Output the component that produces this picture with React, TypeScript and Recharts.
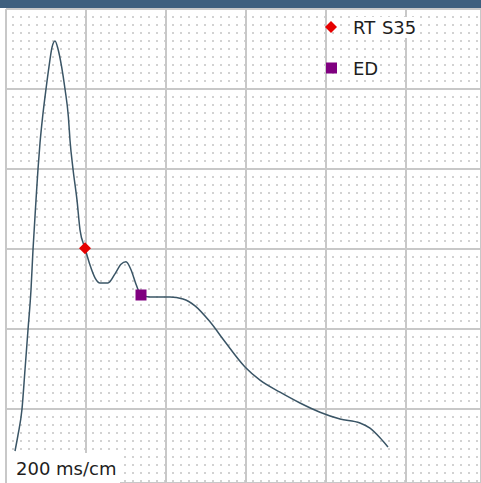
import React from "react";
import {
  ComposedChart,
  Line,
  Scatter,
  XAxis,
  YAxis,
  CartesianGrid,
} from "recharts";

// Time in ms (200 ms per major division), amplitude in mm (10 mm per major division)
const timeMs = [
  22.5, 30, 40, 47.5, 55, 62.5, 67.5, 75, 80, 85, 91.5, 100, 107.5, 115, 122.5,
  130, 139, 147.5, 156, 160, 167.5, 177.5, 185, 197.5, 210, 222.5, 235, 255,
  272.5, 287.5, 300, 312.5, 325, 337.5, 360, 410, 442.5, 472.5, 510, 547.5,
  597.5, 635, 685, 735, 785, 835, 885, 910, 935, 955,
];
const amplitudeMm = [
  -5.25, -3.25, 0, 4.9, 9.9, 14.9, 19.9, 26.1, 30, 33.25, 36.5, 40, 42.8, 45.2,
  46, 45, 42.8, 40, 36.5, 33.6, 30, 26.1, 22.4, 20.1, 18, 16.4, 15.75, 15.75,
  16.9, 18.1, 18.4, 17.4, 15.6, 14.25, 14, 14, 13.75, 12.9, 10.9, 8.4, 5.25,
  3.6, 2.1, 0.75, -0.4, -1.25, -1.75, -2.4, -3.6, -4.75,
];
const rtS35Time = [197.5];
const rtS35Amp = [20.1];
const edTime = [337.5];
const edAmp = [14.25];
const legendNames = ["RT S35", "ED"];
const majorXTicks = [0, 200, 400, 600, 800, 1000];
const majorYTicks = [0, 10, 20, 30, 40];
const minorYTicks = [
  -9, -8, -7, -6, -5, -4, -3, -2, -1, 0, 1, 2, 3, 4, 5, 6, 7, 8, 9, 10, 11, 12,
  13, 14, 15, 16, 17, 18, 19, 20, 21, 22, 23, 24, 25, 26, 27, 28, 29, 30, 31,
  32, 33, 34, 35, 36, 37, 38, 39, 40, 41, 42, 43, 44, 45, 46, 47, 48, 49,
];
const scaleLabel = "200 ms/cm";

const curve = timeMs.map((t, i) => ({ t, v: amplitudeMm[i] }));
const rtData = rtS35Time.map((t, i) => ({ t, v: rtS35Amp[i] }));
const edData = edTime.map((t, i) => ({ t, v: edAmp[i] }));

const FONT = "'DejaVu Sans', Verdana, sans-serif";
const RED = "#e60000";
const PURPLE = "#800080";

const Diamond = (p: any) => {
  const { cx, cy } = p;
  return (
    <polygon
      points={`${cx},${cy - 6} ${cx + 6},${cy} ${cx},${cy + 6} ${cx - 6},${cy}`}
      fill={RED}
    />
  );
};
const Square = (p: any) => {
  const { cx, cy } = p;
  return <rect x={cx - 5.5} y={cy - 5.5} width={11} height={11} fill={PURPLE} />;
};

const LegendBox = () => (
  <div
    style={{
      position: "absolute",
      left: 324,
      top: 15,
      fontFamily: FONT,
      fontSize: 18,
      color: "#1e1e1e",
    }}
  >
    <div style={{ position: "absolute", left: 0, top: 0, display: "flex", alignItems: "center", height: 24, whiteSpace: "nowrap" }}>
      <svg width={14} height={14} style={{ marginRight: 15 }}>
        <polygon points="7,1 13,7 7,13 1,7" fill={RED} />
      </svg>
      <span style={{ wordSpacing: 1, background: "#ffffff" }}>{legendNames[0]}</span>
    </div>
    <div style={{ position: "absolute", left: 0, top: 41, display: "flex", alignItems: "center", height: 24, whiteSpace: "nowrap" }}>
      <svg width={14} height={14} style={{ marginRight: 15 }}>
        <rect x={2} y={1.5} width={11} height={11} fill={PURPLE} />
      </svg>
      <span style={{ background: "#ffffff" }}>{legendNames[1]}</span>
    </div>
  </div>
);

export default function App() {
  return (
    <div
      style={{
        position: "fixed",
        left: 0,
        top: 0,
        width: 481,
        height: 483,
        background: "#ffffff",
        overflow: "hidden",
      }}
    >
      <ComposedChart
        width={481}
        height={483}
        margin={{ top: 9, right: 0, bottom: 0, left: 6 }}
      >
        <XAxis
          xAxisId="x"
          dataKey="t"
          type="number"
          domain={[0, 1187.5]}
          ticks={majorXTicks}
          interval={0}
          allowDataOverflow
          hide
        />
        <YAxis
          yAxisId="main"
          dataKey="v"
          type="number"
          domain={[-9.25, 50]}
          ticks={majorYTicks}
          interval={0}
          allowDataOverflow
          hide
        />
        <YAxis
          yAxisId="minor"
          type="number"
          domain={[-9.25, 50]}
          ticks={minorYTicks}
          interval={0}
          allowDataOverflow
          hide
        />
        <CartesianGrid
          xAxisId="x"
          yAxisId="minor"
          vertical={false}
          stroke="#d2d2d2"
          strokeWidth={2}
          strokeDasharray="2 6"
          strokeDashoffset={2}
        />
        <CartesianGrid
          xAxisId="x"
          yAxisId="main"
          stroke="#c8c8c8"
          strokeWidth={2}
        />
        <Line
          xAxisId="x"
          yAxisId="main"
          data={curve}
          dataKey="v"
          type="monotone"
          stroke="#3a5566"
          strokeWidth={1.5}
          dot={false}
          isAnimationActive={false}
        />
        <Scatter
          xAxisId="x"
          yAxisId="main"
          data={rtData}
          dataKey="v"
          name={legendNames[0]}
          shape={Diamond}
          isAnimationActive={false}
        />
        <Scatter
          xAxisId="x"
          yAxisId="main"
          data={edData}
          dataKey="v"
          name={legendNames[1]}
          shape={Square}
          isAnimationActive={false}
        />
      </ComposedChart>
      <LegendBox />
      <div
        style={{
          position: "absolute",
          left: 0,
          top: 0,
          width: 481,
          height: 8,
          background: "#3e5f7e",
        }}
      />
      <div
        style={{
          position: "absolute",
          left: 7,
          top: 453,
          width: 113,
          height: 30,
          background: "#ffffff",
        }}
      />
      <div
        style={{
          position: "absolute",
          left: 16,
          top: 458,
          fontFamily: FONT,
          fontSize: 18,
          color: "#1e1e1e",
          whiteSpace: "nowrap",
        }}
      >
        {scaleLabel}
      </div>
    </div>
  );
}
